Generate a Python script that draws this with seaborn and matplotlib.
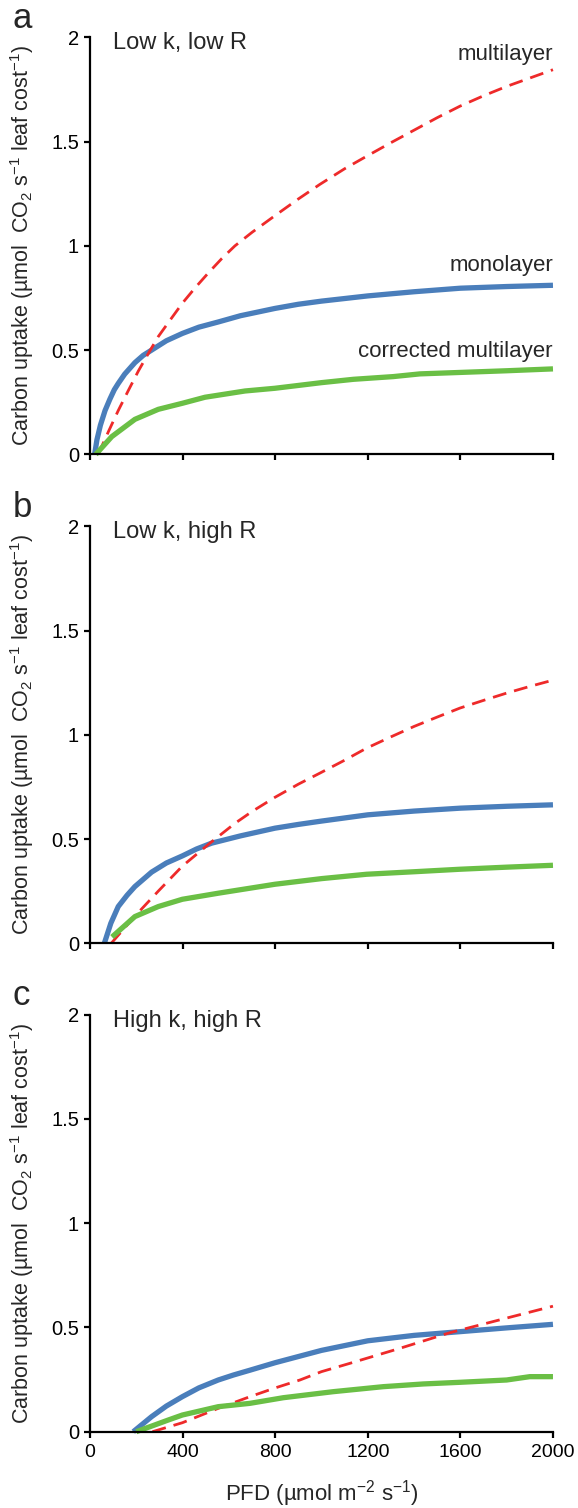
import matplotlib
matplotlib.use("Agg")
import matplotlib.pyplot as plt
import pandas as pd
import seaborn as sns

# ---- data: carbon uptake per leaf cost vs PFD ----
# Panel a: low k, low R
a_mono_pfd = [20, 30, 45, 65, 86, 105, 122, 150, 194, 230, 266, 330, 399, 470, 554, 650,
              799, 900, 1000, 1200, 1400, 1600, 1800, 2000]
a_mono_val = [0, 0.07, 0.14, 0.21, 0.265, 0.31, 0.34, 0.385, 0.44, 0.475, 0.50, 0.545, 0.58,
              0.61, 0.635, 0.665, 0.70, 0.72, 0.735, 0.76, 0.78, 0.797, 0.805, 0.811]
a_multi_pfd = [35, 80, 122, 165, 209, 250, 295, 350, 399, 455, 511, 570, 626, 700, 799, 900,
               993, 1100, 1195, 1300, 1400, 1500, 1598, 1700, 1800, 1900, 2000]
a_multi_val = [0, 0.11, 0.21, 0.305, 0.40, 0.48, 0.565, 0.65, 0.725, 0.80, 0.87, 0.94, 1.0,
               1.065, 1.145, 1.225, 1.295, 1.37, 1.43, 1.495, 1.555, 1.615, 1.67, 1.72,
               1.765, 1.805, 1.845]
a_corr_pfd = [25, 94, 194, 295, 399, 497, 670, 799, 1000, 1138, 1310, 1425, 1800, 2000]
a_corr_val = [0, 0.085, 0.168, 0.216, 0.245, 0.274, 0.304, 0.317, 0.344, 0.36, 0.373, 0.386,
              0.401, 0.41]

# Panel b: low k, high R
b_mono_pfd = [62, 90, 122, 160, 194, 266, 330, 399, 460, 525, 650, 799, 900, 1000, 1200,
              1400, 1600, 1800, 2000]
b_mono_val = [0, 0.096, 0.176, 0.23, 0.272, 0.341, 0.385, 0.419, 0.452, 0.48, 0.515, 0.552,
              0.57, 0.586, 0.616, 0.634, 0.648, 0.657, 0.664]
b_multi_pfd = [92, 194, 295, 399, 518, 626, 700, 799, 900, 993, 1100, 1195, 1300, 1400, 1500,
               1598, 1700, 1800, 1900, 2000]
b_multi_val = [0, 0.13, 0.25, 0.37, 0.48, 0.575, 0.632, 0.70, 0.763, 0.816, 0.878, 0.936,
               0.99, 1.04, 1.085, 1.128, 1.165, 1.20, 1.232, 1.262]
b_corr_pfd = [95, 194, 295, 399, 554, 799, 1000, 1195, 1400, 1598, 1800, 2000]
b_corr_val = [0.03, 0.128, 0.176, 0.211, 0.24, 0.283, 0.31, 0.331, 0.343, 0.355, 0.365, 0.374]

# Panel c: high k, high R
c_mono_pfd = [187, 266, 330, 399, 470, 554, 620, 691, 800, 1000, 1200, 1400, 1600, 1800, 2000]
c_mono_val = [0, 0.072, 0.123, 0.168, 0.21, 0.248, 0.272, 0.295, 0.331, 0.39, 0.436, 0.462,
              0.48, 0.498, 0.515]
c_multi_pfd = [270, 399, 554, 691, 800, 907, 1000, 1123, 1339, 1555, 1800, 2000]
c_multi_val = [0, 0.043, 0.112, 0.168, 0.21, 0.248, 0.288, 0.328, 0.40, 0.475, 0.545, 0.602]
c_corr_pfd = [200, 338, 399, 554, 691, 835, 1051, 1267, 1440, 1600, 1800, 1900, 2000]
c_corr_val = [0, 0.056, 0.08, 0.12, 0.136, 0.163, 0.192, 0.216, 0.229, 0.237, 0.248, 0.264,
              0.264]

panel_letters = ["a", "b", "c"]
panel_titles = ["Low k, low R", "Low k, high R", "High k, high R"]
series_names = ["monolayer", "multilayer", "corrected multilayer"]
x_ticks = [0, 400, 800, 1200, 1600, 2000]
y_ticks = [0, 0.5, 1, 1.5, 2]
y_tick_labels = ["0", "0.5", "1", "1.5", "2"]

panels = [
    [(a_mono_pfd, a_mono_val), (a_multi_pfd, a_multi_val), (a_corr_pfd, a_corr_val)],
    [(b_mono_pfd, b_mono_val), (b_multi_pfd, b_multi_val), (b_corr_pfd, b_corr_val)],
    [(c_mono_pfd, c_mono_val), (c_multi_pfd, c_multi_val), (c_corr_pfd, c_corr_val)],
]

# ---- style ----
sns.set_style("ticks")
plt.rcParams["font.family"] = ["Liberation Sans", "DejaVu Sans"]
plt.rcParams["mathtext.fontset"] = "custom"
plt.rcParams["mathtext.rm"] = "Liberation Sans"
plt.rcParams["mathtext.it"] = "Liberation Sans:italic"
plt.rcParams["mathtext.bf"] = "Liberation Sans:bold"
plt.rcParams["axes.unicode_minus"] = False

line_styles = [
    dict(color="#4a7ebb", linewidth=3.8, linestyle="-", solid_capstyle="butt",
         solid_joinstyle="round"),
    dict(color="#ee2a2a", linewidth=2.0, linestyle=(0, (5.0, 2.9)), dash_capstyle="butt"),
    dict(color="#6abf45", linewidth=3.8, linestyle="-", solid_capstyle="butt",
         solid_joinstyle="round"),
]

fig = plt.figure(figsize=(5.78, 15.08), dpi=100)

ax_left, ax_width, ax_height = 0.1557, 0.801, 0.2765
ax_bottoms = [0.6987, 0.3745, 0.0506]
letter_y = [0.9814, 0.6572, 0.3336]

ylabel = ("Carbon uptake (µmol  CO$\\mathregular{_2}$ s$\\mathregular{^{-1}}$ "
          "leaf cost$\\mathregular{^{-1}}$)")
xlabel = "PFD (µmol m$\\mathregular{^{-2}}$ s$\\mathregular{^{-1}}$)"

for i, series in enumerate(panels):
    ax = fig.add_axes([ax_left, ax_bottoms[i], ax_width, ax_height])
    for (pfd, val), style in zip(series, line_styles):
        df = pd.DataFrame({"PFD": pfd, "uptake": val})
        sns.lineplot(data=df, x="PFD", y="uptake", ax=ax, estimator=None,
                     sort=False, clip_on=False, **style)

    ax.set_xlim(0, 2000)
    ax.set_ylim(0, 2)
    ax.set_xticks(x_ticks)
    ax.set_yticks(y_ticks)
    ax.set_yticklabels(y_tick_labels)
    sns.despine(ax=ax)
    for side in ("left", "bottom"):
        ax.spines[side].set_linewidth(1.6)
        ax.spines[side].set_color("black")
    ax.tick_params(axis="both", direction="out", length=4, width=1.6,
                   colors="black", labelsize=14)
    ax.tick_params(axis="y", labelsize=14.5)
    ax.tick_params(axis="x", pad=5)
    ax.tick_params(axis="y", pad=4)

    ax.set_ylabel(ylabel, fontsize=15.5)
    ax.yaxis.set_label_coords(-0.117, 0.5)
    if i < 2:
        ax.tick_params(axis="x", labelbottom=False)
        ax.set_xlabel("")
    else:
        ax.set_xlabel(xlabel, fontsize=16)
        ax.xaxis.set_label_coords(0.5, -0.112)

    ax.text(0.05, 1.012, panel_titles[i], transform=ax.transAxes,
            ha="left", va="top", fontsize=17)
    fig.text(0.022, letter_y[i], panel_letters[i], fontsize=25,
             ha="left", va="baseline")

# curve labels in the first panel
ax_a = fig.axes[0]
ax_a.text(2000, 1.92, series_names[1], ha="right", va="center", fontsize=16)
ax_a.text(2000, 0.905, series_names[0], ha="right", va="center", fontsize=16)
ax_a.text(2000, 0.495, series_names[2], ha="right", va="center", fontsize=16)

fig.savefig("out.png", dpi=100)
